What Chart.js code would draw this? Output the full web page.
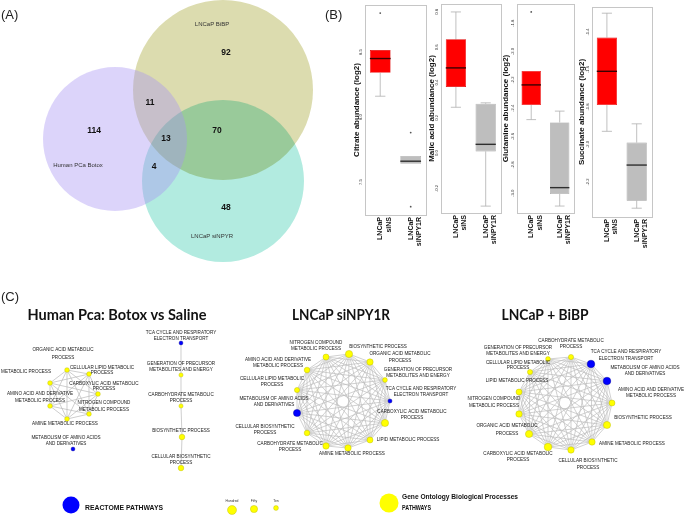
<!DOCTYPE html>
<html>
<head>
<meta charset="utf-8">
<script src="https://cdn.jsdelivr.net/npm/chart.js@4/dist/chart.umd.min.js"></script>
<style>
  body { margin: 0; background: #fff; }
  #wrap { position: relative; width: 684px; height: 516px; overflow: hidden; background: #fff; }
  #wrap canvas { position: absolute; }
</style>
</head>
<body>
<div id="wrap">
  <canvas id="venn" width="348" height="290" style="left:0;top:0"></canvas>
  <canvas id="net" width="684" height="231" style="left:0;top:285px"></canvas>
</div>
<script>
Chart.defaults.font.family = "'Liberation Sans', Arial, sans-serif";
Chart.defaults.animation = false;

const SANS = "'Liberation Sans', Arial, sans-serif";
const NF = '4.6px ' + SANS;

/* ---------- (A) Venn data ---------- */
const vennSets = ['Human PCa Botox', 'LNCaP BiBP', 'LNCaP siNPYR'];
const vennRegions = ['Botox', 'BiBP', 'siNPYR', 'Botox+BiBP', 'Botox+siNPYR', 'BiBP+siNPYR', 'all'];
const vennCounts = [114, 92, 48, 11, 4, 70, 13];

// layout of the diagram (page px)
const vennCircleX = [115, 223, 223];
const vennCircleY = [139, 90, 181];
const vennCircleR = [72, 90, 81];
const vennFill = ['rgba(167,147,242,0.4)', 'rgb(220,220,175)', 'rgb(178,235,224)'];
const vennBlend = ['source-over', 'source-over', 'multiply'];
const vennSetLabelPos = [[78, 165], [212, 24], [212, 236]];
const vennCountPos = [[94, 131], [226, 53], [226, 208], [150, 103], [154, 167], [217, 131], [166, 139]];

/* ---------- (B) box plots, [lower whisker, Q1, median, Q3, upper whisker] ---------- */
const boxGroups = [['LNCaP', 'siNS'], ['LNCaP', 'siNPY1R']];

const citrateNS = [8.16, 8.34, 8.45, 8.515, 8.515];
const citrateNPY = [7.64, 7.64, 7.66, 7.70, 7.70];
const citrateOutNS = [8.80];
const citrateOutNPY = [7.88, 7.31];
const citrateTicks = [7.5, 8.0, 8.5];

const malicNS = [0.26, 0.375, 0.483, 0.645, 0.80];
const malicNPY = [-0.30, 0.01, 0.05, 0.28, 0.285];
const malicOutNS = [];
const malicOutNPY = [];
const malicTicks = [-0.2, 0.0, 0.2, 0.4, 0.6, 0.8];

const glutNS = [-2.48, -2.377, -2.235, -2.137, -2.137];
const glutNPY = [-3.09, -3.005, -2.96, -2.50, -2.42];
const glutOutNS = [-1.72];
const glutOutNPY = [];
const glutTicks = [-3.0, -2.8, -2.6, -2.4, -2.2, -2.0, -1.8];

const succNS = [-1.93, -1.79, -1.61, -1.43, -1.30];
const succNPY = [-2.34, -2.30, -2.11, -1.99, -1.89];
const succOutNS = [];
const succOutNPY = [];
const succTicks = [-2.2, -2.0, -1.8, -1.6, -1.4];

const boxPanels = [
  { title: 'Citrate abundance (log2)', ns: citrateNS, npy: citrateNPY, outNS: citrateOutNS, outNPY: citrateOutNPY, ticks: citrateTicks, min: 7.246, max: 8.862, frame: [365, 428, 5, 215], sw: 13 },
  { title: 'Malic acid abundance (log2)', ns: malicNS, npy: malicNPY, outNS: malicOutNS, outNPY: malicOutNPY, ticks: malicTicks, min: -0.339, max: 0.845, frame: [441, 503, 4, 213], sw: 14 },
  { title: 'Glutamine abundance (log2)', ns: glutNS, npy: glutNPY, outNS: glutOutNS, outNPY: glutOutNPY, ticks: glutTicks, min: -3.139, max: -1.664, frame: [517, 577, 4, 213], sw: 16 },
  { title: 'Succinate abundance (log2)', ns: succNS, npy: succNPY, outNS: succOutNS, outNPY: succOutNPY, ticks: succTicks, min: -2.387, max: -1.267, frame: [592, 654, 7, 217], sw: 15 }
];

/* ---------- (C) networks ---------- */
// gene counts per node (drive node size), source: GO = gene ontology, R = reactome
const c1Nodes = ['ORGANIC ACID METABOLIC PROCESS', 'CELLULAR LIPID METABOLIC PROCESS', 'LIPID METABOLIC PROCESS', 'CARBOXYLIC ACID METABOLIC PROCESS', 'AMINO ACID AND DERIVATIVE METABOLIC PROCESS', 'NITROGEN COMPOUND METABOLIC PROCESS', 'AMINE METABOLIC PROCESS', 'METABOLISM OF AMINO ACIDS AND DERIVATIVES', 'TCA CYCLE AND RESPIRATORY ELECTRON TRANSPORT', 'GENERATION OF PRECURSOR METABOLITES AND ENERGY', 'CARBOHYDRATE METABOLIC PROCESS', 'BIOSYNTHETIC PROCESS', 'CELLULAR BIOSYNTHETIC PROCESS'];
const c1Source = ['GO', 'GO', 'GO', 'GO', 'GO', 'GO', 'GO', 'R', 'R', 'GO', 'GO', 'GO', 'GO'];
const c1Genes = [8, 8, 8, 8, 8, 8, 8, 2, 2, 4, 4, 19, 19];

const c2Nodes = ['NITROGEN COMPOUND METABOLIC PROCESS', 'BIOSYNTHETIC PROCESS', 'ORGANIC ACID METABOLIC PROCESS', 'GENERATION OF PRECURSOR METABOLITES AND ENERGY', 'TCA CYCLE AND RESPIRATORY ELECTRON TRANSPORT', 'CARBOXYLIC ACID METABOLIC PROCESS', 'LIPID METABOLIC PROCESS', 'AMINE METABOLIC PROCESS', 'CARBOHYDRATE METABOLIC PROCESS', 'CELLULAR BIOSYNTHETIC PROCESS', 'METABOLISM OF AMINO ACIDS AND DERIVATIVES', 'CELLULAR LIPID METABOLIC PROCESS', 'AMINO ACID AND DERIVATIVE METABOLIC PROCESS'];
const c2Source = ['GO', 'GO', 'GO', 'GO', 'R', 'GO', 'GO', 'GO', 'GO', 'GO', 'R', 'GO', 'GO'];
const c2Genes = [25, 49, 32, 9, 3, 49, 25, 32, 32, 19, 49, 13, 19];

const c3Nodes = ['CARBOHYDRATE METABOLIC PROCESS', 'TCA CYCLE AND RESPIRATORY ELECTRON TRANSPORT', 'METABOLISM OF AMINO ACIDS AND DERIVATIVES', 'AMINO ACID AND DERIVATIVE METABOLIC PROCESS', 'BIOSYNTHETIC PROCESS', 'AMINE METABOLIC PROCESS', 'CELLULAR BIOSYNTHETIC PROCESS', 'CARBOXYLIC ACID METABOLIC PROCESS', 'ORGANIC ACID METABOLIC PROCESS', 'NITROGEN COMPOUND METABOLIC PROCESS', 'LIPID METABOLIC PROCESS', 'CELLULAR LIPID METABOLIC PROCESS', 'GENERATION OF PRECURSOR METABOLITES AND ENERGY'];
const c3Source = ['GO', 'R', 'R', 'GO', 'GO', 'GO', 'GO', 'GO', 'GO', 'GO', 'GO', 'GO', 'GO'];
const c3Genes = [13, 59, 59, 25, 49, 32, 32, 59, 49, 32, 25, 13, 9];

const sizeLegendNames = ['Hundred', 'Fifty', 'Ten'];
const sizeLegendGenes = [100, 50, 10];

// network layout (page px)
const c1X = [67, 89, 50, 98, 50, 89, 67, 73, 181, 181, 181, 182, 181];
const c1Y = [370, 374, 383, 394, 406, 414, 419, 449, 343, 375, 406, 437, 468];
const c2X = [326, 349, 370, 385, 390, 385, 370, 348, 326, 307, 297, 297, 307];
const c2Y = [357, 354, 362, 380, 401, 423, 440, 448, 446, 433, 413, 390, 370];
const c3X = [571, 591, 607, 612, 607, 592, 571, 548, 529, 519, 519, 530, 548];
const c3Y = [357, 364, 381, 403, 425, 442, 450, 447, 434, 414, 392, 372, 359];
const sizeLegendX = [232, 254, 276];
const sizeLegendY = [510, 509, 508];

function allPairs(ids) {
  const out = [];
  ids.forEach((a, i) => ids.slice(i + 1).forEach(b => out.push([a, b])));
  return out;
}
const c1Edges = allPairs([0, 1, 2, 3, 4, 5, 6]).concat([[8, 9], [9, 10], [10, 11], [11, 12]]);
const c2Edges = allPairs([0, 1, 2, 3, 4, 5, 6, 7, 8, 9, 10, 11, 12]);
const c3Edges = allPairs([0, 1, 2, 3, 4, 5, 6, 7, 8, 9, 10, 11, 12]);

const c1Labels = [
  { t: 'ORGANIC ACID METABOLIC|PROCESS', x: 63, y: 350, g: 7.5 },
  { t: 'CELLULAR LIPID METABOLIC|PROCESS', x: 102, y: 368, g: 5 },
  { t: 'LIPID METABOLIC PROCESS', x: 51, y: 372, a: 'right' },
  { t: 'CARBOXYLIC ACID METABOLIC|PROCESS', x: 104, y: 384, g: 5 },
  { t: 'AMINO ACID AND DERIVATIVE|METABOLIC PROCESS', x: 40, y: 394, g: 7 },
  { t: 'NITROGEN COMPOUND|METABOLIC PROCESS', x: 104, y: 403, g: 7 },
  { t: 'AMINE METABOLIC PROCESS', x: 65, y: 424 },
  { t: 'METABOLISM OF AMINO ACIDS|AND DERIVATIVES', x: 66, y: 438, g: 6 },
  { t: 'TCA CYCLE AND RESPIRATORY|ELECTRON TRANSPORT', x: 181, y: 333, g: 5.5 },
  { t: 'GENERATION OF PRECURSOR|METABOLITES AND ENERGY', x: 181, y: 364, g: 6 },
  { t: 'CARBOHYDRATE METABOLIC|PROCESS', x: 181, y: 395, g: 6 },
  { t: 'BIOSYNTHETIC PROCESS', x: 181, y: 431 },
  { t: 'CELLULAR BIOSYNTHETIC|PROCESS', x: 181, y: 457, g: 6 }
];
const c2Labels = [
  { t: 'NITROGEN COMPOUND|METABOLIC PROCESS', x: 316, y: 343, g: 6 },
  { t: 'BIOSYNTHETIC PROCESS', x: 378, y: 347 },
  { t: 'ORGANIC ACID METABOLIC|PROCESS', x: 400, y: 354, g: 7 },
  { t: 'AMINO ACID AND DERIVATIVE|METABOLIC PROCESS', x: 278, y: 360, g: 6 },
  { t: 'GENERATION OF PRECURSOR|METABOLITES AND ENERGY', x: 418, y: 370, g: 5.5 },
  { t: 'CELLULAR LIPID METABOLIC|PROCESS', x: 272, y: 379, g: 6 },
  { t: 'TCA CYCLE AND RESPIRATORY|ELECTRON TRANSPORT', x: 421, y: 389, g: 5.5 },
  { t: 'METABOLISM OF AMINO ACIDS|AND DERIVATIVES', x: 274, y: 399, g: 6 },
  { t: 'CARBOXYLIC ACID METABOLIC|PROCESS', x: 412, y: 412, g: 5.5 },
  { t: 'CELLULAR BIOSYNTHETIC|PROCESS', x: 265, y: 427, g: 5.5 },
  { t: 'LIPID METABOLIC PROCESS', x: 408, y: 440 },
  { t: 'CARBOHYDRATE METABOLIC|PROCESS', x: 290, y: 444, g: 6 },
  { t: 'AMINE METABOLIC PROCESS', x: 352, y: 454 }
];
const c3Labels = [
  { t: 'CARBOHYDRATE METABOLIC|PROCESS', x: 571, y: 341, g: 6 },
  { t: 'GENERATION OF PRECURSOR|METABOLITES AND ENERGY', x: 518, y: 348, g: 5.5 },
  { t: 'TCA CYCLE AND RESPIRATORY|ELECTRON TRANSPORT', x: 626, y: 352, g: 6.5 },
  { t: 'CELLULAR LIPID METABOLIC|PROCESS', x: 518, y: 363, g: 5 },
  { t: 'METABOLISM OF AMINO ACIDS|AND DERIVATIVES', x: 645, y: 368, g: 6 },
  { t: 'LIPID METABOLIC PROCESS', x: 517, y: 381 },
  { t: 'AMINO ACID AND DERIVATIVE|METABOLIC PROCESS', x: 651, y: 390, g: 6 },
  { t: 'NITROGEN COMPOUND|METABOLIC PROCESS', x: 494, y: 399, g: 7 },
  { t: 'BIOSYNTHETIC PROCESS', x: 643, y: 418 },
  { t: 'ORGANIC ACID METABOLIC|PROCESS', x: 507, y: 426, g: 8 },
  { t: 'AMINE METABOLIC PROCESS', x: 632, y: 444 },
  { t: 'CARBOXYLIC ACID METABOLIC|PROCESS', x: 518, y: 454, g: 6 },
  { t: 'CELLULAR BIOSYNTHETIC|PROCESS', x: 588, y: 461, g: 7 }
];

/* ---------- helpers ---------- */
function nodeRadius(genes) { return 1.5 + 0.3 * Math.sqrt(genes); }
const sourceColor = { GO: '#FFFF00', R: '#0000FF' };
const sourceEdge = { GO: '#B5B500', R: '#00008B' };

function textLayer(items) {
  return {
    id: 'textLayer',
    afterDatasetsDraw(chart) {
      const { ctx, scales: { x, y } } = chart;
      ctx.save();
      ctx.textBaseline = 'middle';
      items.forEach(it => {
        ctx.font = it.f || NF;
        ctx.fillStyle = it.c || '#1a1a1a';
        String(it.t).split('|').forEach((line, i) => {
          ctx.save();
          ctx.translate(x.getPixelForValue(it.x), y.getPixelForValue(it.y + i * (it.g || 6)));
          if (it.w) ctx.scale(it.w / ctx.measureText(line).width, 1);
          ctx.textAlign = it.a || 'center';
          ctx.fillText(line, 0, 0);
          ctx.restore();
        });
      });
      ctx.restore();
    }
  };
}

/* ---------- Venn ---------- */
const vennTexts = [
  { t: '(A)', x: 1, y: 15, a: 'left', f: '13px ' + SANS, c: '#222' },
  { t: '(B)', x: 325, y: 15, a: 'left', f: '13px ' + SANS, c: '#222' }
];
vennSets.forEach((s, i) => vennTexts.push({ t: s, x: vennSetLabelPos[i][0], y: vennSetLabelPos[i][1], f: '6px ' + SANS, c: '#333' }));
vennCounts.forEach((n, i) => vennTexts.push({ t: String(n), x: vennCountPos[i][0], y: vennCountPos[i][1], f: 'bold 8.5px ' + SANS, c: '#111' }));

const vennOrder = [0, 2, 1]; // purple on top, olive underneath

// teal circle is multiplied onto the olive one, like overlapping inks
const vennBlendLayer = {
  id: 'vennBlend',
  beforeDatasetDraw(chart, args) {
    chart.ctx.save();
    chart.ctx.globalCompositeOperation = vennBlend[vennOrder[args.index]];
  },
  afterDatasetDraw(chart) {
    chart.ctx.restore();
  }
};

new Chart(document.getElementById('venn'), {
  type: 'scatter',
  data: {
    datasets: vennOrder.map(k => ({
      label: vennSets[k],
      data: [{ x: vennCircleX[k], y: vennCircleY[k] }],
      pointRadius: ctx => {
        const s = ctx.chart.scales.x;
        return s.getPixelForValue(vennCircleR[k]) - s.getPixelForValue(0);
      },
      pointBackgroundColor: vennFill[k],
      pointBorderWidth: 0
    }))
  },
  options: {
    responsive: false,
    events: [],
    layout: { padding: 0, autoPadding: false },
    plugins: { legend: { display: false }, tooltip: { enabled: false } },
    scales: {
      x: { type: 'linear', min: 0, max: 348, display: false },
      y: { type: 'linear', min: 0, max: 290, reverse: true, display: false }
    }
  },
  plugins: [vennBlendLayer, textLayer(vennTexts)]
});

/* ---------- box plots ---------- */
const boxFill = ['#FF0000', '#BEBEBE'];
const boxEdge = ['#E00000', '#9A9A9A'];
const medianColor = ['#3a0000', '#2e2e2e'];

function boxExtras(p) {
  const sums = [p.ns, p.npy];
  return {
    id: 'boxExtras',
    beforeDatasetsDraw(chart) {
      const { ctx, scales: { y } } = chart;
      const bars = chart.getDatasetMeta(0).data;
      ctx.save();
      ctx.strokeStyle = '#b0b0b0';
      ctx.lineWidth = 0.8;
      sums.forEach((s, i) => {
        const bar = bars[i];
        const cap = bar.width / 4;
        [[s[1], s[0]], [s[3], s[4]]].forEach(([from, to]) => {
          if (from === to) return;
          ctx.beginPath();
          ctx.moveTo(bar.x, y.getPixelForValue(from));
          ctx.lineTo(bar.x, y.getPixelForValue(to));
          ctx.moveTo(bar.x - cap, y.getPixelForValue(to));
          ctx.lineTo(bar.x + cap, y.getPixelForValue(to));
          ctx.stroke();
        });
      });
      ctx.restore();
    },
    afterDatasetsDraw(chart) {
      const { ctx, chartArea: a, scales: { y } } = chart;
      const bars = chart.getDatasetMeta(0).data;
      ctx.save();
      sums.forEach((s, i) => {
        const bar = bars[i];
        const ym = y.getPixelForValue(s[2]);
        ctx.strokeStyle = medianColor[i];
        ctx.lineWidth = 1.4;
        ctx.beginPath();
        ctx.moveTo(bar.x - bar.width / 2, ym);
        ctx.lineTo(bar.x + bar.width / 2, ym);
        ctx.stroke();
      });
      ctx.strokeStyle = '#c6c6c6';
      ctx.lineWidth = 1;
      ctx.strokeRect(Math.round(a.left) + 0.5, Math.round(a.top) + 0.5, Math.round(a.right - a.left), Math.round(a.bottom - a.top));
      ctx.fillStyle = '#333';
      ctx.font = '4.2px ' + SANS;
      ctx.textAlign = 'center';
      ctx.textBaseline = 'middle';
      p.ticks.forEach(t => {
        ctx.save();
        ctx.translate(a.left - 4.5, y.getPixelForValue(t));
        ctx.rotate(-Math.PI / 2);
        ctx.fillText(t.toFixed(1), 0, 0);
        ctx.restore();
      });
      ctx.restore();
    }
  };
}

const wrap = document.getElementById('wrap');
boxPanels.forEach(p => {
  const [fl, fr, ft, fb] = p.frame;
  const H = 262, xAxisH = 45;
  const left = fl - p.sw - 2;
  const cv = document.createElement('canvas');
  cv.width = fr + 2 - left;
  cv.height = H;
  cv.style.left = left + 'px';
  cv.style.top = '0px';
  wrap.appendChild(cv);

  const outs = [p.outNS, p.outNPY];
  const nOut = Math.max(outs[0].length, outs[1].length);
  const outSets = [];
  for (let k = 0; k < nOut; k++) {
    outSets.push({
      type: 'line',
      data: outs.map(o => (o[k] === undefined ? null : o[k])),
      showLine: false,
      pointRadius: 0.9,
      pointBackgroundColor: '#555',
      pointBorderWidth: 0,
      order: 0
    });
  }

  new Chart(cv, {
    type: 'bar',
    data: {
      labels: boxGroups,
      datasets: [{
        data: [p.ns, p.npy].map(s => [s[1], s[3]]),
        backgroundColor: boxFill,
        borderColor: boxEdge,
        borderWidth: 0.6,
        borderSkipped: false,
        barPercentage: 0.68,
        categoryPercentage: 1,
        grouped: false,
        order: 1
      }].concat(outSets)
    },
    options: {
      responsive: false,
      events: [],
      layout: { padding: { left: 2, right: 2, top: ft, bottom: H - fb - xAxisH }, autoPadding: false },
      plugins: { legend: { display: false }, tooltip: { enabled: false } },
      scales: {
        x: {
          grid: { display: false, drawTicks: false },
          border: { display: false },
          ticks: { minRotation: 90, maxRotation: 90, autoSkip: false, padding: 2, color: '#111', font: { size: 7, weight: 'bold' } },
          afterFit(s) { s.height = xAxisH; }
        },
        y: {
          min: p.min,
          max: p.max,
          grid: { display: false },
          border: { display: false },
          ticks: { display: false },
          title: { display: true, text: p.title, color: '#111', padding: 0, font: { size: 8, weight: 'bold' } },
          afterFit(s) { s.width = p.sw; }
        }
      }
    },
    plugins: [boxExtras(p)]
  });
});

/* ---------- networks + legend ---------- */
const nets = [
  { nodes: c1Nodes, src: c1Source, genes: c1Genes, xs: c1X, ys: c1Y, edges: c1Edges, edgeColor: '#b9b9b9' },
  { nodes: c2Nodes, src: c2Source, genes: c2Genes, xs: c2X, ys: c2Y, edges: c2Edges, edgeColor: '#bdbdbd' },
  { nodes: c3Nodes, src: c3Source, genes: c3Genes, xs: c3X, ys: c3Y, edges: c3Edges, edgeColor: '#bdbdbd' }
];

const edgeLayer = {
  id: 'edgeLayer',
  beforeDatasetsDraw(chart) {
    const { ctx, scales: { x, y } } = chart;
    ctx.save();
    ctx.lineWidth = 0.7;
    nets.forEach(n => {
      ctx.strokeStyle = n.edgeColor;
      ctx.beginPath();
      n.edges.forEach(([a, b]) => {
        ctx.moveTo(x.getPixelForValue(n.xs[a]), y.getPixelForValue(n.ys[a]));
        ctx.lineTo(x.getPixelForValue(n.xs[b]), y.getPixelForValue(n.ys[b]));
      });
      ctx.stroke();
    });
    ctx.restore();
  }
};

const titleFont = 'bold 16px Lato, ' + SANS;
const netTexts = [
  { t: '(C)', x: 1, y: 297, a: 'left', f: '13px ' + SANS, c: '#222' },
  { t: 'Human Pca: Botox vs Saline', x: 117, y: 315, f: titleFont, w: 179, c: '#111' },
  { t: 'LNCaP siNPY1R', x: 341, y: 315, f: titleFont, w: 98, c: '#111' },
  { t: 'LNCaP + BiBP', x: 545, y: 315, f: titleFont, w: 87, c: '#111' },
  { t: 'REACTOME PATHWAYS', x: 85, y: 508, a: 'left', f: 'bold 8px ' + SANS, w: 78, c: '#111' },
  { t: 'Gene Ontology Biological Processes', x: 402, y: 497, a: 'left', f: 'bold 8px ' + SANS, w: 116, c: '#111' },
  { t: 'PATHWAYS', x: 402, y: 508, a: 'left', f: 'bold 8px ' + SANS, w: 29, c: '#111' }
].concat(c1Labels, c2Labels, c3Labels);
sizeLegendNames.forEach((s, i) => netTexts.push({ t: s, x: sizeLegendX[i], y: 501.5, f: '3.4px ' + SANS, c: '#333' }));

const netSets = nets.map(n => ({
  data: n.xs.map((v, i) => ({ x: v, y: n.ys[i] })),
  pointRadius: n.genes.map(nodeRadius),
  pointBackgroundColor: n.src.map(s => sourceColor[s]),
  pointBorderColor: n.src.map(s => sourceEdge[s]),
  pointBorderWidth: 0.4
}));
netSets.push({
  data: sizeLegendX.map((v, i) => ({ x: v, y: sizeLegendY[i] })),
  pointRadius: sizeLegendGenes.map(nodeRadius),
  pointBackgroundColor: sourceColor.GO,
  pointBorderColor: sourceEdge.GO,
  pointBorderWidth: 0.4
});
netSets.push({
  data: [{ x: 71, y: 505 }, { x: 389, y: 503 }],
  pointRadius: [8.5, 9.5],
  pointBackgroundColor: [sourceColor.R, sourceColor.GO],
  pointBorderWidth: 0
});

new Chart(document.getElementById('net'), {
  type: 'scatter',
  data: { datasets: netSets },
  options: {
    responsive: false,
    events: [],
    layout: { padding: 0, autoPadding: false },
    plugins: { legend: { display: false }, tooltip: { enabled: false } },
    scales: {
      x: { type: 'linear', min: 0, max: 684, display: false },
      y: { type: 'linear', min: 285, max: 516, reverse: true, display: false }
    }
  },
  plugins: [edgeLayer, textLayer(netTexts)]
});
</script>
</body>
</html>
